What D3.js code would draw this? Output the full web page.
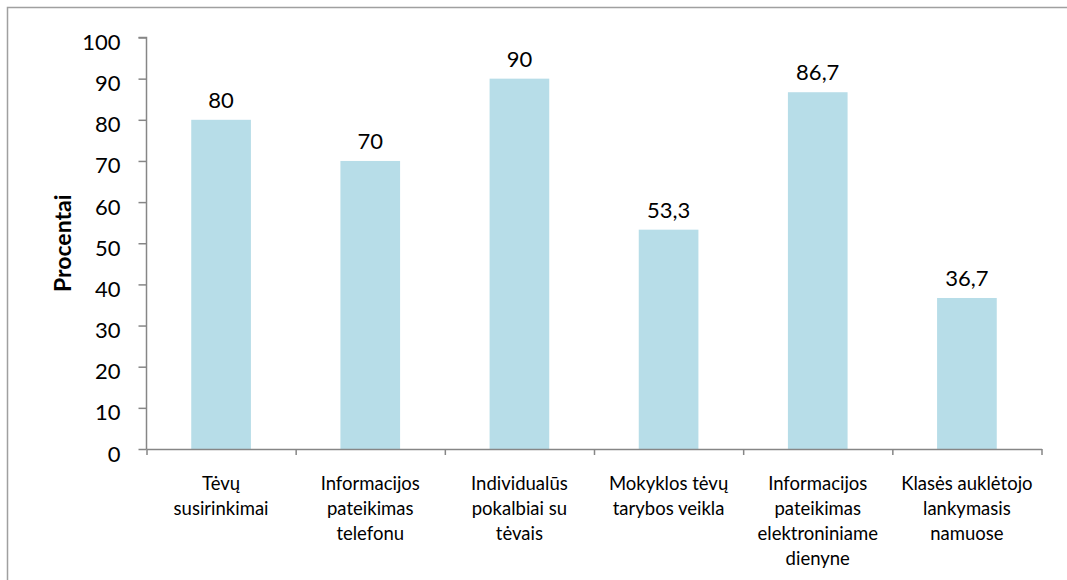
<!DOCTYPE html>
<html>
<head>
<meta charset="utf-8">
<script src="https://cdn.jsdelivr.net/npm/d3@7"></script>
<style>
  body { margin: 0; background: #fff; }
  text { font-family: Lato, "Open Sans", sans-serif; fill: #000; }
  .axis path, .axis line { stroke: #868686; stroke-width: 1.5; }
</style>
</head>
<body>
<div id="chart"></div>
<script>
// data
var categories = [
    "Tėvų\nsusirinkimai",
    "Informacijos\npateikimas\ntelefonu",
    "Individualūs\npokalbiai su\ntėvais",
    "Mokyklos tėvų\ntarybos veikla",
    "Informacijos\npateikimas\nelektroniniame\ndienyne",
    "Klasės auklėtojo\nlankymasis\nnamuose"
];
var values = [80, 70, 90, 53.3, 86.7, 36.7];
var yTicks = [0, 10, 20, 30, 40, 50, 60, 70, 80, 90, 100];
var yTitle = "Procentai";

var svgWidth = 1067;
var svgHeight = 580;

var plot = { left: 146.5, right: 1041.5, top: 37.5, bottom: 449 };

var svg = d3.select("#chart")
    .append("svg")
    .attr("width", svgWidth)
    .attr("height", svgHeight);

// outer frame of the chart area
svg.append("rect")
    .attr("x", 7.5)
    .attr("y", 7.5)
    .attr("width", 1080)
    .attr("height", 600)
    .attr("fill", "none")
    .attr("stroke", "#a0a0a0")
    .attr("stroke-width", 1.5);

var xScale = d3.scaleBand()
    .domain(categories)
    .range([plot.left, plot.right])
    .paddingInner(0.6)
    .paddingOuter(0.3);

// boundaries between categories, for the x ticks
var xEdge = d3.scaleLinear()
    .domain([0, categories.length])
    .range([plot.left, plot.right]);

var yScale = d3.scaleLinear()
    .domain([0, 100])
    .range([plot.bottom, plot.top]);

var fmt = d3.formatLocale({ decimal: ",", thousands: " ", grouping: [3], currency: ["", ""] }).format("~r");

// bars
svg.selectAll("rect.bar")
    .data(values)
    .enter()
    .append("rect")
    .attr("class", "bar")
    .attr("x", (d, i) => xScale(categories[i]))
    .attr("width", xScale.bandwidth())
    .attr("y", d => yScale(d))
    .attr("height", d => yScale(0) - yScale(d))
    .attr("fill", "#b7dde8");

// y axis
var yAxis = svg.append("g")
    .attr("class", "axis")
    .attr("transform", `translate(${plot.left},0)`)
    .call(d3.axisLeft(yScale).tickValues(yTicks).tickSize(8).tickPadding(18).tickSizeOuter(8));
yAxis.selectAll("text")
    .attr("y", 5)
    .style("font-size", "22px");
yAxis.select(".domain").attr("d", `M-8,${plot.top}H0V${plot.bottom}`);

// x axis
var xAxis = svg.append("g")
    .attr("class", "axis")
    .attr("transform", `translate(0,${plot.bottom})`)
    .call(d3.axisBottom(xEdge).tickValues(d3.range(categories.length + 1)).tickSize(6).tickSizeOuter(0).tickFormat(""));

// category labels
var catLabels = svg.selectAll("text.cat")
    .data(categories)
    .enter()
    .append("text")
    .attr("class", "cat")
    .attr("text-anchor", "middle")
    .attr("x", d => xScale(d) + xScale.bandwidth() / 2)
    .attr("y", 489.5)
    .style("font-size", "18.5px");

catLabels.selectAll("tspan")
    .data(d => d.split("\n"))
    .enter()
    .append("tspan")
    .attr("x", function () { return d3.select(this.parentNode).attr("x"); })
    .attr("dy", (d, i) => i === 0 ? 0 : 25)
    .text(d => d);

// value labels
svg.selectAll("text.val")
    .data(values)
    .enter()
    .append("text")
    .attr("class", "val")
    .attr("text-anchor", "middle")
    .attr("x", (d, i) => xScale(categories[i]) + xScale.bandwidth() / 2)
    .attr("y", d => yScale(d) - 12)
    .style("font-size", "22px")
    .text(d => fmt(d));

// y axis title
svg.append("text")
    .attr("transform", `translate(71,${(plot.top + plot.bottom) / 2}) rotate(-90)`)
    .attr("text-anchor", "middle")
    .style("font-size", "23px")
    .style("font-weight", "bold")
    .text(yTitle);
</script>
</body>
</html>
